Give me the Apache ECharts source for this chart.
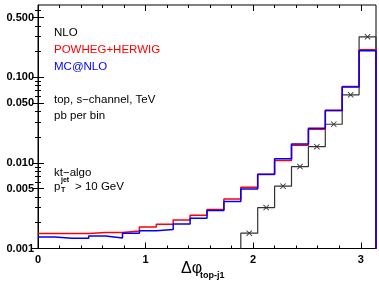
<!DOCTYPE html>
<html lang="en">
  <head>
    <meta charset="UTF-8">
    <title>delta phi top-j1</title>
    <script src="https://cdn.jsdelivr.net/npm/echarts@6.0.0/dist/echarts.min.js"></script>
    <style>
      html, body { margin: 0; padding: 0; background: #fff; }
    </style>
  </head>
  <body>
    <div id="main" style="width: 379px;height:285px;"></div>
    <script type="text/javascript">
      // bin edges of the histogram (20 bins from 0 to pi)
      const binEdges = [0, 0.1571, 0.3142, 0.4712, 0.6283, 0.7854, 0.9425, 1.0996, 1.2566, 1.4137,
        1.5708, 1.7279, 1.8850, 2.0420, 2.1991, 2.3562, 2.5133, 2.6704, 2.8274, 2.9845, 3.1416];

      // pb per bin
      const nloValues = [null, null, null, null, null, null, null, null, null, null, null, null,
        0.00151, 0.00301, 0.00535, 0.00906, 0.01549, 0.02829, 0.06248, 0.2977];
      const powhegValues = [0.00150, 0.00150, 0.00150, 0.00154, 0.00154, 0.00160, 0.00178, 0.00192, 0.00215, 0.00245,
        0.00285, 0.00378, 0.00518, 0.00730, 0.01064, 0.01613, 0.02480, 0.04076, 0.07807, 0.2099];
      const mcnloValues = [0.00136, 0.00132, 0.00132, 0.00140, 0.00133, 0.00151, 0.00161, 0.00167, 0.00193, 0.00226,
        0.00278, 0.00354, 0.00497, 0.00738, 0.01122, 0.01666, 0.02541, 0.04120, 0.07703, 0.2044];

      // tick labels
      const xTicks = [0, 1, 2, 3];
      const xMinorTicks = [0.2, 0.4, 0.6, 0.8, 1.2, 1.4, 1.6, 1.8, 2.2, 2.4, 2.6, 2.8, 3.0];
      const yTicks = [0.001, 0.005, 0.01, 0.05, 0.1, 0.5];
      const yMinorTicks = [0.002, 0.003, 0.004, 0.006, 0.007, 0.008, 0.009,
        0.02, 0.03, 0.04, 0.06, 0.07, 0.08, 0.09, 0.2, 0.3, 0.4, 0.6];

      const yMin = 0.001, yMax = 0.7;
      const font = 'Liberation Sans';

      // histogram outline: two corners per bin, dropping to the axis at the ends
      function stepData(vals) {
        const pts = [];
        let last = null;
        vals.forEach((v, i) => {
          if (v == null) return;
          if (last == null && i > 0) pts.push([binEdges[i], yMin]);
          pts.push([binEdges[i], v]);
          pts.push([binEdges[i + 1], v]);
          last = v;
        });
        pts.push([binEdges[binEdges.length - 1], yMin]);
        return pts;
      }

      const nloPoints = [];
      nloValues.forEach((v, i) => {
        if (v != null) nloPoints.push([(binEdges[i] + binEdges[i + 1]) / 2, v]);
      });

      function xAx(pos, ticks, len, labels) {
        return {
          type: 'value', position: pos, min: 0, max: binEdges[binEdges.length - 1],
          axisLine: { show: labels, lineStyle: { color: '#000', width: 1 } },
          axisTick: { show: true, inside: true, length: len, customValues: ticks, lineStyle: { color: '#000' } },
          axisLabel: labels ? { show: true, customValues: xTicks, margin: 6, color: '#000',
            fontFamily: font, fontWeight: 'bold', fontSize: 11 } : { show: false },
          splitLine: { show: false }
        };
      }
      function yAx(pos, ticks, len, labels) {
        return {
          type: 'log', logBase: 10, position: pos, min: yMin, max: yMax,
          axisLine: { show: labels, lineStyle: { color: '#000', width: 1 } },
          axisTick: { show: true, inside: true, length: len, customValues: ticks, lineStyle: { color: '#000' } },
          axisLabel: labels ? { show: true, customValues: yTicks, margin: 4, color: '#000',
            fontFamily: font, fontWeight: 'bold', fontSize: 11,
            formatter: v => v.toFixed(3) } : { show: false },
          splitLine: { show: false }
        };
      }

      let myChart = echarts.init(document.getElementById('main'));

      let options = {
        animation: false,
        grid: { left: 38, right: 3, top: 5, bottom: 36.5, show: true, borderColor: '#000', borderWidth: 1 },
        xAxis: [
          xAx('bottom', xTicks, 6, true),
          xAx('bottom', xMinorTicks, 3, false),
          xAx('top', xTicks, 6, false),
          xAx('top', xMinorTicks, 3, false)
        ],
        yAxis: [
          yAx('left', yTicks, 6, true),
          yAx('left', yMinorTicks, 3, false),
          yAx('right', yTicks, 6, false),
          yAx('right', yMinorTicks, 3, false)
        ],
        legend: {
          orient: 'vertical', left: 44, top: 21, icon: 'none', itemWidth: 0, itemGap: 4,
          selectedMode: false,
          textStyle: { fontFamily: font, fontSize: 11.5 },
          data: [
            { name: 'NLO', textStyle: { color: '#000' } },
            { name: 'POWHEG+HERWIG', textStyle: { color: '#ff0000' } },
            { name: 'MC@NLO', textStyle: { color: '#0000ff' } }
          ]
        },
        graphic: [
          { type: 'text', left: 54, top: 94, style: { text: 'top, s\u2212channel, TeV', font: '11.5px ' + font, fill: '#000' } },
          { type: 'text', left: 54, top: 110, style: { text: 'pb per bin', font: '11.5px ' + font, fill: '#000' } },
          { type: 'text', left: 54, top: 167, style: { text: 'kt\u2212algo', font: '11.5px ' + font, fill: '#000' } },
          { type: 'text', left: 54, top: 181, style: { text: 'p', font: '11.5px ' + font, fill: '#000' } },
          { type: 'text', left: 61, top: 177, style: { text: 'jet', font: 'bold 7px ' + font, fill: '#000' } },
          { type: 'text', left: 61, top: 187, style: { text: 'T', font: 'bold 7px ' + font, fill: '#000' } },
          { type: 'text', left: 75, top: 181, style: { text: '> 10 GeV', font: '11.5px ' + font, fill: '#000' } },
          { type: 'text', left: 181, top: 261, style: { text: '\u0394\u03c6', font: '16px ' + font, fill: '#000' } },
          { type: 'text', left: 200, top: 271, style: { text: 'top-j1', font: 'bold 9px ' + font, fill: '#000' } }
        ],
        series: [
          {
            name: 'NLO', type: 'line', data: stepData(nloValues),
            showSymbol: false, lineStyle: { color: '#333', width: 1.2 }, itemStyle: { color: '#000' }
          },
          {
            name: 'NLO', type: 'scatter', data: nloPoints,
            symbol: 'path://M0,1L1,0L5,4L9,0L10,1L6,5L10,9L9,10L5,6L1,10L0,9L4,5Z', symbolSize: 6,
            itemStyle: { color: '#000' }
          },
          {
            name: 'POWHEG+HERWIG', type: 'line', data: stepData(powhegValues),
            showSymbol: false, lineStyle: { color: '#ff0000', width: 1.5 }, itemStyle: { color: '#ff0000' }
          },
          {
            name: 'MC@NLO', type: 'line', data: stepData(mcnloValues),
            showSymbol: false, lineStyle: { color: '#0000ff', width: 1.5 }, itemStyle: { color: '#0000ff' }
          }
        ]
      };

      myChart.setOption(options);
    </script>
  </body>
</html>
